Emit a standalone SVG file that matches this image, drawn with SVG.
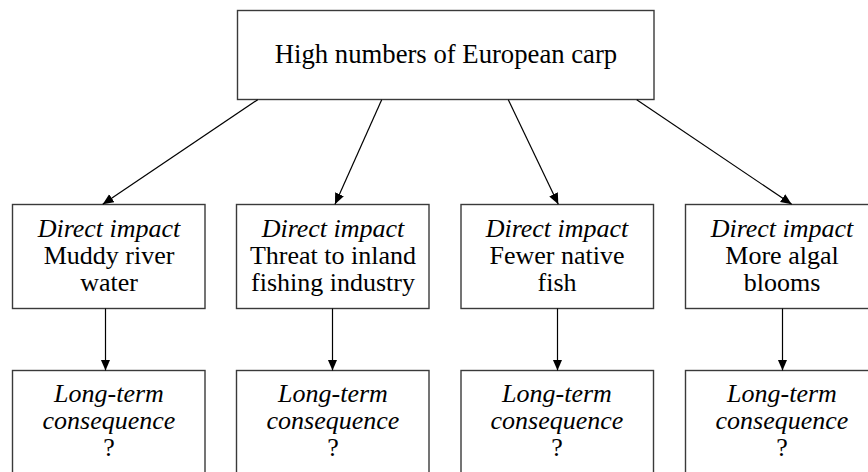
<svg xmlns="http://www.w3.org/2000/svg" width="868" height="472" viewBox="0 0 868 472">
  <style>
    .box { fill: #ffffff; stroke: #3a3a3a; stroke-width: 1.4; }
    .link { fill: none; stroke: #000000; stroke-width: 1.2; marker-end: url(#arrow); }
    .lbl { font-family: 'Liberation Serif', 'Times New Roman', serif; font-size: 26px; fill: #000000; text-anchor: middle; }
    .it { font-style: italic; }
  </style>
  <defs>
    <marker id="arrow" markerUnits="userSpaceOnUse" markerWidth="12" markerHeight="10" refX="11" refY="4.75" orient="auto">
      <path d="M0,0 L11,4.75 L0,9.5 Z" fill="#000000"/>
    </marker>
  </defs>
  <rect x="0" y="0" width="868" height="472" fill="#ffffff"/>

  <!-- root cause -->
  <g id="cause" class="lbl">
    <rect class="box" x="237.5" y="10.5" width="416.5" height="89"/>
    <text x="446" y="63" font-size="26.7">High numbers of European carp</text>
  </g>

  <!-- direct impacts -->
  <g id="impact-muddy" class="lbl">
    <rect class="box" x="12.5" y="204.5" width="192.5" height="104"/>
    <text x="109" y="237" class="it">Direct impact</text>
    <text x="109" y="264">Muddy river</text>
    <text x="109" y="291">water</text>
  </g>
  <g id="impact-fishing" class="lbl">
    <rect class="box" x="236.5" y="204.5" width="192.5" height="104"/>
    <text x="333" y="237" class="it">Direct impact</text>
    <text x="333" y="264">Threat to inland</text>
    <text x="333" y="291">fishing industry</text>
  </g>
  <g id="impact-native" class="lbl">
    <rect class="box" x="461" y="204.5" width="192.5" height="104"/>
    <text x="557" y="237" class="it">Direct impact</text>
    <text x="557" y="264">Fewer native</text>
    <text x="557" y="291">fish</text>
  </g>
  <g id="impact-algal" class="lbl">
    <rect class="box" x="685.5" y="204.5" width="192.5" height="104"/>
    <text x="782" y="237" class="it">Direct impact</text>
    <text x="782" y="264">More algal</text>
    <text x="782" y="291">blooms</text>
  </g>

  <!-- long-term consequences (boxes run past the bottom edge) -->
  <g id="consequence-1" class="lbl">
    <rect class="box" x="12.5" y="370.5" width="192.5" height="120"/>
    <text x="109" y="401.5" class="it">Long-term</text>
    <text x="109" y="429" class="it">consequence</text>
    <text x="109" y="456">?</text>
  </g>
  <g id="consequence-2" class="lbl">
    <rect class="box" x="236.5" y="370.5" width="192.5" height="120"/>
    <text x="333" y="401.5" class="it">Long-term</text>
    <text x="333" y="429" class="it">consequence</text>
    <text x="333" y="456">?</text>
  </g>
  <g id="consequence-3" class="lbl">
    <rect class="box" x="461" y="370.5" width="192.5" height="120"/>
    <text x="557" y="401.5" class="it">Long-term</text>
    <text x="557" y="429" class="it">consequence</text>
    <text x="557" y="456">?</text>
  </g>
  <g id="consequence-4" class="lbl">
    <rect class="box" x="685.5" y="370.5" width="192.5" height="120"/>
    <text x="782" y="401.5" class="it">Long-term</text>
    <text x="782" y="429" class="it">consequence</text>
    <text x="782" y="456">?</text>
  </g>

  <!-- connectors -->
  <g id="connectors">
    <line class="link" x1="257.7" y1="99.7" x2="102.7" y2="204.3"/>
    <line class="link" x1="381.7" y1="99.7" x2="335" y2="204.3"/>
    <line class="link" x1="508.3" y1="99.7" x2="558.3" y2="204.3"/>
    <line class="link" x1="636.7" y1="99.7" x2="791.7" y2="204.3"/>
    <line class="link" x1="105.5" y1="308.5" x2="105.5" y2="370.5"/>
    <line class="link" x1="332.5" y1="308.5" x2="332.5" y2="370.5"/>
    <line class="link" x1="557.5" y1="308.5" x2="557.5" y2="370.5"/>
    <line class="link" x1="782.5" y1="308.5" x2="782.5" y2="370.5"/>
  </g>
</svg>
